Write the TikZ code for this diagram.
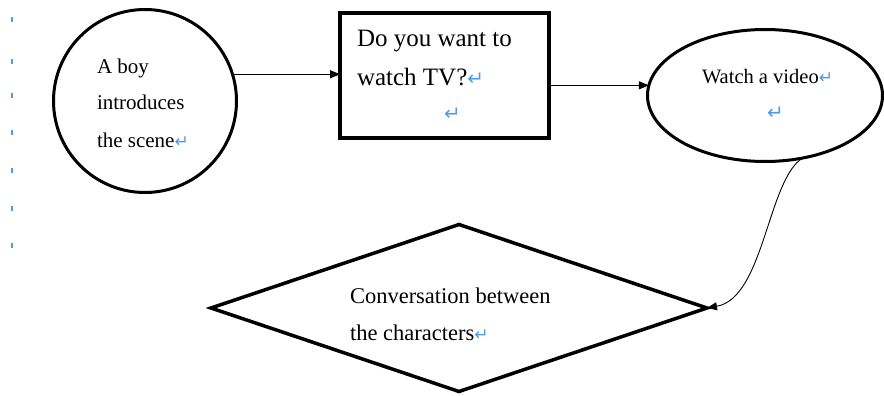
\documentclass[tikz,border=0pt]{standalone}
\usepackage{fontspec}
\setmainfont{Liberation Serif}
\newfontfamily\retfont{DejaVu Sans}
\usetikzlibrary{shapes.geometric,arrows.meta}
\definecolor{markblue}{RGB}{80,155,230}
\newcommand{\retmark}[1]{{\retfont\fontsize{#1}{#1}\selectfont\color{markblue}↵}}
\begin{document}
\begin{tikzpicture}[x=1pt,y=-1pt,
  shapeline/.style={draw=black, line width=3pt, inner sep=0pt, outer sep=0pt},
  conn/.style={draw=black, line width=0.9pt, -{Triangle[length=10pt,width=8pt]}},
  txt/.style={anchor=base west, inner sep=0pt, outer sep=0pt},
  tick/.style={draw=markblue, line width=1.8pt}]
\useasboundingbox (0,0) rectangle (884,396);

% margin ticks
\foreach \yy in {20,62,96,132,170,208,245}{
  \draw[tick] (12,\yy-2.5) -- (12,\yy+2.5);
}

% shapes
\node[shapeline, circle, minimum size=183pt] (circ) at (145,101) {};
\node[shapeline, rectangle, line width=4pt, minimum width=209pt, minimum height=125pt] (rect) at (444.5,75.5) {};
\node[shapeline, ellipse, minimum width=235pt, minimum height=132pt] (ell) at (765,95.5) {};
\node[shapeline, diamond, line width=3.5pt, minimum width=496pt, minimum height=167pt] (dia) at (459,308) {};

% texts
\begin{scope}[every node/.style={txt}]
\node[font=\fontsize{21}{36}\selectfont] (c1) at (97,74) {A boy};
\node[font=\fontsize{21}{36}\selectfont] (c2) at (97,110) {introduces};
\node[font=\fontsize{21}{36}\selectfont] (c3) at (97,147) {the scene\retmark{17}};

\node[font=\fontsize{25}{37}\selectfont] (r1) at (357,47) {Do you want to};
\node[font=\fontsize{25}{37}\selectfont] (r2) at (357,85) {watch TV?\retmark{20}};
\node (r3) at (444,121) {\retmark{20}};

\node[font=\fontsize{20.5}{34}\selectfont] (e1) at (702,84) {Watch a video\retmark{17}};
\node (e2) at (767,119) {\retmark{20}};

\node[font=\fontsize{22.5}{37}\selectfont] (d1) at (350,303) {Conversation between};
\node[font=\fontsize{22.5}{37}\selectfont] (d2) at (350,340) {the characters\retmark{17}};
\end{scope}

% connectors
\draw[conn] (circ.17) -- (circ.17 -| rect.west);
\draw[conn] (rect.east |- ell.175) -- (ell.175);
\draw[conn] (ell.-59) .. controls +(-35,22) and +(57,-10) .. (dia.east);
\end{tikzpicture}
\end{document}
